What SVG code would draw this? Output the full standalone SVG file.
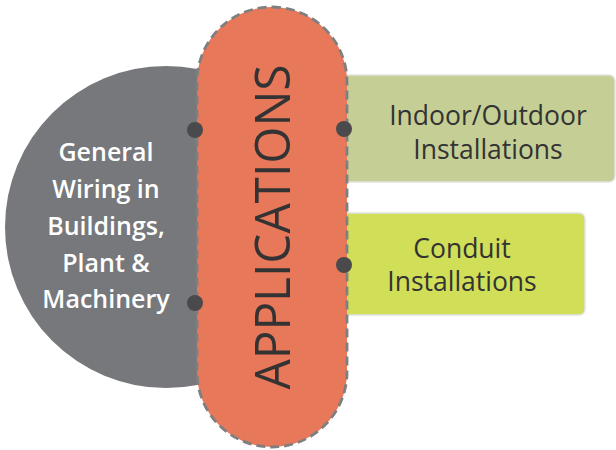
<svg xmlns="http://www.w3.org/2000/svg" width="616" height="450" viewBox="0 0 616 450">
<style>
.dot{fill:#4a4a4c}
.lt{font-family:"Open Sans","Liberation Sans",sans-serif;font-weight:600;font-size:25px;fill:#ffffff;text-anchor:middle}
.rt{font-family:"Open Sans","Liberation Sans",sans-serif;font-size:26.5px;fill:#333333;text-anchor:middle}
.box{stroke:#e2e2e2;stroke-width:1.5}
</style>
<rect width="616" height="450" fill="#ffffff"/>
<g id="general">
<circle cx="166" cy="227" r="161" fill="#77787b"/>
<text class="lt"><tspan x="106" y="161">General</tspan><tspan x="106" y="198">Wiring in</tspan><tspan x="106" y="235">Buildings,</tspan><tspan x="106" y="272">Plant &amp;</tspan><tspan x="106" y="308">Machinery</tspan></text>
</g>
<g id="indoor">
<rect class="box" x="340" y="75" width="275" height="107" rx="6" fill="#c5cf95"/>
<text class="rt"><tspan x="488" y="125">Indoor/Outdoor</tspan><tspan x="488" y="159">Installations</tspan></text>
</g>
<g id="conduit">
<rect class="box" x="340" y="213" width="245" height="102" rx="6" fill="#d1de58"/>
<text class="rt"><tspan x="462" y="258">Conduit</tspan><tspan x="462" y="291">Installations</tspan></text>
</g>
<g id="applications">
<rect x="197" y="7" width="150" height="440" rx="75" fill="#e8785a" stroke="#7f7f7f" stroke-width="2.8" stroke-dasharray="9 5"/>
<text transform="translate(290 227) rotate(-90)" text-anchor="middle" font-family="'Open Sans','Liberation Sans',sans-serif" font-size="50" fill="#333333" textLength="325" lengthAdjust="spacingAndGlyphs">APPLICATIONS</text>
</g>
<g id="connectors">
<circle class="dot" cx="195" cy="130" r="8"/>
<circle class="dot" cx="195" cy="303" r="8"/>
<circle class="dot" cx="344" cy="129" r="8"/>
<circle class="dot" cx="344" cy="265" r="8"/>
</g>
</svg>
